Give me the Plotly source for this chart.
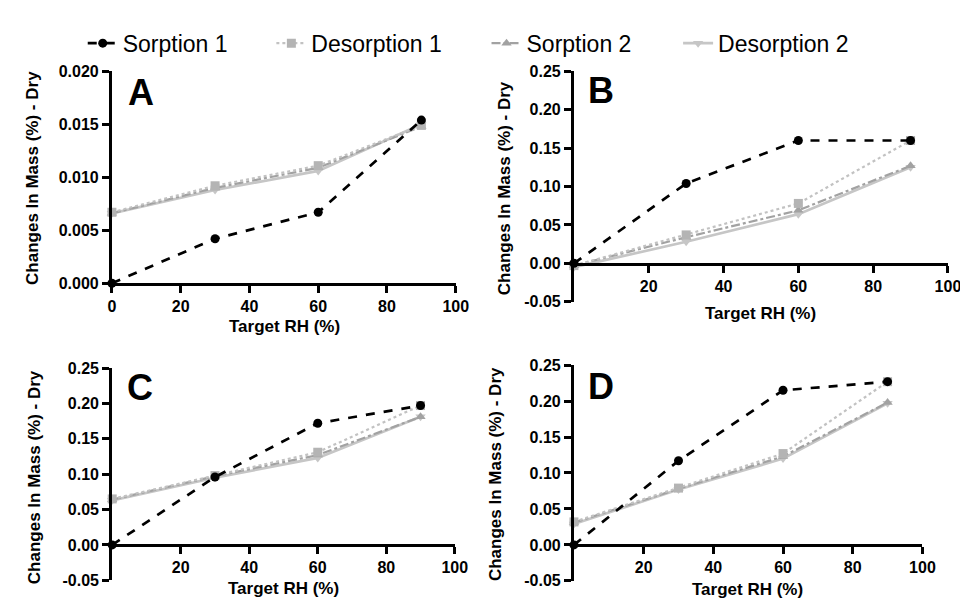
import plotly.graph_objects as go

# ---------------- data ----------------
rh = [0, 30, 60, 90]
series_names = ["Sorption 1", "Desorption 1", "Sorption 2", "Desorption 2"]
panel_letters = ["A", "B", "C", "D"]

a_sorption1 = [0.0, 0.0042, 0.0067, 0.0154]
a_desorption1 = [0.0067, 0.0092, 0.0111, 0.0149]
a_sorption2 = [0.0066, 0.0090, 0.0109, 0.0148]
a_desorption2 = [0.0066, 0.0088, 0.0106, 0.0150]

b_sorption1 = [0.0, 0.104, 0.160, 0.160]
b_desorption1 = [-0.003, 0.037, 0.078, 0.160]
b_sorption2 = [-0.003, 0.034, 0.069, 0.127]
b_desorption2 = [-0.005, 0.028, 0.064, 0.125]

c_sorption1 = [0.0, 0.096, 0.172, 0.197]
c_desorption1 = [0.065, 0.098, 0.131, 0.197]
c_sorption2 = [0.064, 0.097, 0.127, 0.181]
c_desorption2 = [0.063, 0.095, 0.123, 0.181]

d_sorption1 = [0.0, 0.117, 0.215, 0.227]
d_desorption1 = [0.032, 0.079, 0.127, 0.227]
d_sorption2 = [0.031, 0.078, 0.123, 0.198]
d_desorption2 = [0.029, 0.077, 0.120, 0.197]

x_ticks_a = [0, 20, 40, 60, 80, 100]
x_ticks_bcd = [20, 40, 60, 80, 100]
y_ticks_a = [0.0, 0.005, 0.010, 0.015, 0.020]
y_ticklabels_a = ["0.000", "0.005", "0.010", "0.015", "0.020"]
y_ticks_bcd = [-0.05, 0.0, 0.05, 0.10, 0.15, 0.20, 0.25]
y_ticklabels_bcd = ["-0.05", "0.00", "0.05", "0.10", "0.15", "0.20", "0.25"]

x_title = "Target RH (%)"
y_title = "Changes In Mass (%) - Dry"

panels = [
    [a_sorption1, a_desorption1, a_sorption2, a_desorption2],
    [b_sorption1, b_desorption1, b_sorption2, b_desorption2],
    [c_sorption1, c_desorption1, c_sorption2, c_desorption2],
    [d_sorption1, d_desorption1, d_sorption2, d_desorption2],
]

# ---------------- styling ----------------
W, H = 968, 601
FONT = "Liberation Sans, Arial, Helvetica, sans-serif"

styles = {
    "Sorption 1": dict(line=dict(color="black", dash="dash", width=2.7),
                       marker=dict(symbol="circle", size=9, color="black")),
    "Desorption 1": dict(line=dict(color="#c2c2c2", dash="dot", width=2.2),
                         marker=dict(symbol="square", size=9, color="#b4b4b4")),
    "Sorption 2": dict(line=dict(color="#a2a2a2", dash="dashdot", width=2.2),
                       marker=dict(symbol="triangle-up", size=9, color="#a2a2a2")),
    "Desorption 2": dict(line=dict(color="#c6c6c6", width=2.7),
                         marker=dict(symbol="triangle-down", size=9, color="#c6c6c6")),
}

def px_x(p):
    return p / W

def px_y(p):
    return 1 - p / H

# panel geometry in pixels: (x_left, x_right, y_top, y_bottom, y_zero)
geom = [
    (101.7, 451.7, 57.0, 275.0, 275.0),
    (572.0, 952.7, 57.0, 294.0, 255.0),
    (102.0, 450.7, 362.3, 580.7, 544.3),
    (572.0, 926.7, 359.3, 581.3, 544.3),
]

fig = go.Figure()

draw_order = ["Desorption 2", "Sorption 2", "Desorption 1", "Sorption 1"]
legend_ids = {"Sorption 1": "legend", "Desorption 1": "legend2",
              "Sorption 2": "legend3", "Desorption 2": "legend4"}

for pi, data in enumerate(panels):
    suffix = "" if pi == 0 else str(pi + 1)
    for name in draw_order:
        si = series_names.index(name)
        st = styles[name]
        fig.add_trace(go.Scatter(
            x=rh, y=data[si], mode="lines+markers", name=name,
            line=st["line"], marker=st["marker"],
            xaxis="x" + suffix, yaxis="y" + suffix,
            showlegend=(pi == 0), legend=legend_ids[name],
            cliponaxis=False,
        ))

axis_common = dict(
    showline=True, linewidth=3, linecolor="black", mirror=False,
    ticks="outside", ticklen=7, tickwidth=2.5, tickcolor="black",
    showgrid=False, zeroline=False,
    tickfont=dict(family=FONT, size=16, color="black", weight="bold"),
)

layout_axes = {}
for pi, (xl, xr, yt, yb, yz) in enumerate(geom):
    suffix = "" if pi == 0 else str(pi + 1)
    xa = dict(axis_common)
    ya = dict(axis_common)
    xa.update(domain=[px_x(xl), px_x(xr)], range=[0, 100])
    if pi == 0:
        xa.update(anchor="y", tickmode="array", tickvals=x_ticks_a,
                  ticktext=[str(v) for v in x_ticks_a])
        ya.update(domain=[px_y(yb), px_y(yt)], range=[0, 0.020], anchor="x",
                  tickmode="array", tickvals=y_ticks_a, ticktext=y_ticklabels_a)
    else:
        xa.update(anchor="free", position=px_y(yz), tickmode="array",
                  tickvals=x_ticks_bcd, ticktext=[str(v) for v in x_ticks_bcd])
        ya.update(domain=[px_y(yb), px_y(yt)], range=[-0.05, 0.25], anchor="x" + suffix,
                  tickmode="array", tickvals=y_ticks_bcd, ticktext=y_ticklabels_bcd)
    layout_axes["xaxis" + suffix] = xa
    layout_axes["yaxis" + suffix] = ya

annotations = []
# y titles (center x, center y)
ytitle_pos = [(21, 167), (502, 177), (23, 475), (492, 471)]
xtitle_pos = [(277, 320), (762, 306), (276, 589), (749, 590)]
letter_pos = [(131, 79), (600, 77), (130, 382), (600, 381)]
for i in range(4):
    annotations.append(dict(text=y_title, x=px_x(ytitle_pos[i][0]), y=px_y(ytitle_pos[i][1]),
                            xref="paper", yref="paper", showarrow=False, textangle=-90,
                            xanchor="center", yanchor="middle",
                            font=dict(family=FONT, size=17, color="black", weight="bold")))
    annotations.append(dict(text=x_title, x=px_x(xtitle_pos[i][0]), y=px_y(xtitle_pos[i][1]),
                            xref="paper", yref="paper", showarrow=False,
                            xanchor="center", yanchor="middle",
                            font=dict(family=FONT, size=17, color="black", weight="bold")))
    annotations.append(dict(text=panel_letters[i], x=px_x(letter_pos[i][0]), y=px_y(letter_pos[i][1]),
                            xref="paper", yref="paper", showarrow=False,
                            xanchor="center", yanchor="middle",
                            font=dict(family=FONT, size=36, color="black", weight="bold")))

legend_font = dict(family=FONT, size=23, color="black")
legend_x = [72, 264, 483, 678]

def leg(xp):
    return dict(x=px_x(xp), y=px_y(28), xanchor="left", yanchor="middle",
                orientation="h", font=legend_font, bgcolor="rgba(0,0,0,0)",
                borderwidth=0, itemwidth=30)

fig.update_layout(
    width=W, height=H,
    margin=dict(l=0, r=0, t=0, b=0),
    paper_bgcolor="white", plot_bgcolor="white",
    annotations=annotations,
    legend=leg(legend_x[0]), legend2=leg(legend_x[1]),
    legend3=leg(legend_x[2]), legend4=leg(legend_x[3]),
    **layout_axes,
)

fig.write_html("out.html")
